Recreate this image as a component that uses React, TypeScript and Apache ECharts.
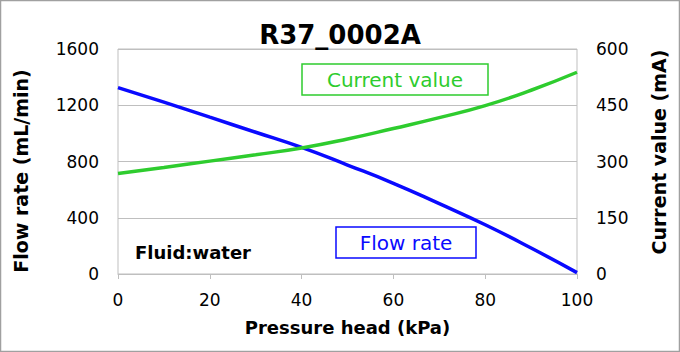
import React, { useEffect, useRef } from "react";
import * as echarts from "echarts";

const pressure = [0, 10, 20, 30, 40, 50, 60, 70, 80, 90, 100];
const flowRate = [1325, 1222, 1115, 1008, 900, 775, 645, 500, 350, 185, 10];
const currentValue = [268, 284, 301, 318, 336, 360, 388, 417, 449, 490, 538];
const leftTicks = [0, 400, 800, 1200, 1600];
const rightTicks = [0, 150, 300, 450, 600];

const FONT = "DejaVu Sans";
const BLUE = "#0a0aff";
const GREEN = "#2ecc2e";

export default function App() {
  const ref = useRef<HTMLDivElement>(null);
  useEffect(() => {
    if (!ref.current) return;
    const chart = echarts.init(ref.current, null, { renderer: "svg" });
    chart.setOption({
      animation: false,
      backgroundColor: "#ffffff",
      title: {
        text: "R37_0002A",
        left: "center",
        top: 17,
        textStyle: { fontFamily: FONT, fontSize: 26, fontWeight: "bold", color: "#000" },
      },
      grid: { left: 118, right: 103, top: 49, bottom: 78, show: true, borderColor: "#bfbfbf", borderWidth: 1 },
      xAxis: {
        type: "value",
        min: 0,
        max: 100,
        interval: 20,
        name: "Pressure head (kPa)",
        nameLocation: "middle",
        nameGap: 44,
        nameTextStyle: { fontFamily: FONT, fontSize: 18, fontWeight: "bold", color: "#000" },
        axisLine: { show: true, lineStyle: { color: "#bfbfbf" } },
        axisTick: { show: true, length: 5, lineStyle: { color: "#bfbfbf" } },
        axisLabel: { fontFamily: FONT, fontSize: 17, color: "#000", margin: 17 },
        splitLine: { show: false },
      },
      yAxis: [
        {
          type: "value",
          min: leftTicks[0],
          max: leftTicks[leftTicks.length - 1],
          interval: 400,
          axisLine: { show: false },
          axisTick: { show: false },
          axisLabel: { fontFamily: FONT, fontSize: 17, color: "#000", margin: 19, formatter: (v: number) => String(v) },
          splitLine: { show: true, lineStyle: { color: "#bfbfbf", width: 1 } },
        },
        {
          type: "value",
          min: rightTicks[0],
          max: rightTicks[rightTicks.length - 1],
          interval: 150,
          position: "right",
          axisLine: { show: false },
          axisTick: { show: false },
          axisLabel: { fontFamily: FONT, fontSize: 17, color: "#000", margin: 19, formatter: (v: number) => String(v) },
          splitLine: { show: false },
        },
      ],
      series: [
        {
          name: "Flow rate",
          type: "line",
          yAxisIndex: 0,
          smooth: true,
          showSymbol: false,
          data: pressure.map((p, i) => [p, flowRate[i]]),
          lineStyle: { color: BLUE, width: 3.5 },
          itemStyle: { color: BLUE },
        },
        {
          name: "Current value",
          type: "line",
          yAxisIndex: 1,
          smooth: true,
          showSymbol: false,
          data: pressure.map((p, i) => [p, currentValue[i]]),
          lineStyle: { color: GREEN, width: 3.5 },
          itemStyle: { color: GREEN },
        },
      ],
      graphic: [
        {
          type: "rect",
          shape: { x: 0.5, y: 0.5, width: 679, height: 351 },
          style: { fill: "none", stroke: "#a0a0a0", lineWidth: 1.5 },
          silent: true,
        },
        {
          type: "text",
          x: 21,
          y: 171,
          rotation: Math.PI / 2,
          style: {
            text: "Flow rate (mL/min)",
            fill: "#000",
            font: `bold 19px "${FONT}"`,
            align: "center",
            verticalAlign: "middle",
          },
        },
        {
          type: "text",
          x: 659,
          y: 152,
          rotation: Math.PI / 2,
          style: {
            text: "Current value (mA)",
            fill: "#000",
            font: `bold 19px "${FONT}"`,
            align: "center",
            verticalAlign: "middle",
          },
        },
        {
          type: "rect",
          shape: { x: 302, y: 64, width: 186, height: 31 },
          style: { fill: "#fff", stroke: GREEN, lineWidth: 1.5 },
        },
        {
          type: "text",
          x: 395,
          y: 80,
          style: {
            text: "Current value",
            fill: GREEN,
            font: `20px "${FONT}"`,
            align: "center",
            verticalAlign: "middle",
          },
        },
        {
          type: "rect",
          shape: { x: 336, y: 227, width: 140, height: 31 },
          style: { fill: "#fff", stroke: BLUE, lineWidth: 1.5 },
        },
        {
          type: "text",
          x: 406,
          y: 243,
          style: {
            text: "Flow rate",
            fill: BLUE,
            font: `20px "${FONT}"`,
            align: "center",
            verticalAlign: "middle",
          },
        },
        {
          type: "text",
          x: 135,
          y: 252,
          style: {
            text: "Fluid:water",
            fill: "#000",
            font: `bold 18px "${FONT}"`,
            align: "left",
            verticalAlign: "middle",
          },
        },
      ],
    });
    return () => chart.dispose();
  }, []);
  return (
    <div style={{ position: "fixed", left: 0, top: 0, width: 680, height: 352 }}>
      <div ref={ref} style={{ width: 680, height: 352 }} />
    </div>
  );
}
